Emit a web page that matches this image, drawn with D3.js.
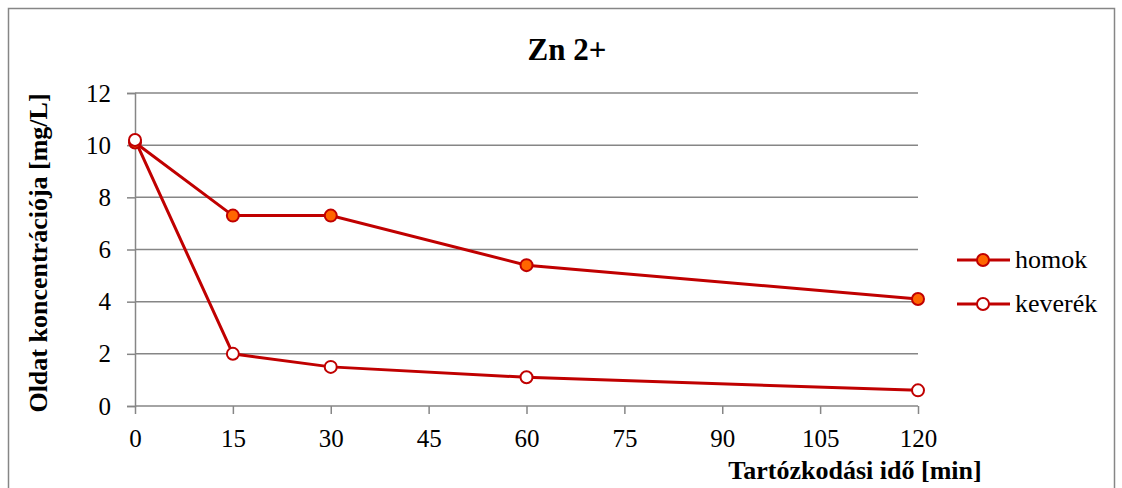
<!DOCTYPE html>
<html>
<head>
<meta charset="utf-8">
<script src="https://cdn.jsdelivr.net/npm/d3@7"></script>
<style>
  body { margin: 0; background: #fff; }
  svg text { font-family: 'Liberation Serif', serif; fill: #000; }
</style>
</head>
<body>
<svg id="chart" width="1122" height="488"></svg>
<script>
const times = [0, 15, 30, 60, 120];
const homok = [10.1, 7.3, 7.3, 5.4, 4.1];
const keverek = [10.2, 2.0, 1.5, 1.1, 0.6];
const xTicks = [0, 15, 30, 45, 60, 75, 90, 105, 120];
const yTicks = [0, 2, 4, 6, 8, 10, 12];

const series = [
    { name: "homok", values: homok, fill: "#FF6600" },
    { name: "keverék", values: keverek, fill: "#FFFFFF" }
];

const svg = d3.select("#chart");
const red = "#C00000";
const gray = "#868686";
const serif = "'Liberation Serif', serif";

// outer frame
svg.append("rect")
    .attr("x", 8.5).attr("y", 8.5)
    .attr("width", 1106).attr("height", 500)
    .attr("fill", "none").attr("stroke", gray).attr("stroke-width", 1.5);

const x = d3.scaleLinear().domain([0, 120]).range([135, 918]);
const y = d3.scaleLinear().domain([0, 12]).range([406, 93]);

// gridlines
svg.append("g")
    .selectAll("line")
    .data(yTicks.filter(d => d > 0))
    .enter()
    .append("line")
    .attr("x1", x(0)).attr("x2", x(120))
    .attr("y1", d => y(d)).attr("y2", d => y(d))
    .attr("stroke", gray).attr("stroke-width", 1.5);

// y axis
const yAxis = svg.append("g")
    .attr("transform", `translate(${x(0)},0)`)
    .call(d3.axisLeft(y).tickValues(yTicks).tickSize(8).tickPadding(16));
// x axis
const xAxis = svg.append("g")
    .attr("transform", `translate(0,${y(0)})`)
    .call(d3.axisBottom(x).tickValues(xTicks).tickSize(8).tickPadding(15));

[yAxis, xAxis].forEach(g => {
    g.attr("font-family", serif).attr("font-size", 25);
    g.select(".domain").attr("stroke", gray).attr("stroke-width", 1.5);
    g.selectAll(".tick line").attr("stroke", gray).attr("stroke-width", 1.5);
    g.selectAll(".tick text").style("font-size", "25px").attr("fill", "#000");
});
xAxis.select(".domain").attr("d", `M${x(0)},0H${x(120)}`);

const line = d3.line()
    .x((d, i) => x(times[i]))
    .y(d => y(d));

series.forEach(s => {
    svg.append("path")
        .datum(s.values)
        .attr("d", line)
        .attr("fill", "none")
        .attr("stroke", red)
        .attr("stroke-width", 3);
});

series.forEach(s => {
    svg.append("g")
        .selectAll("circle")
        .data(s.values)
        .enter()
        .append("circle")
        .attr("cx", (d, i) => x(times[i]))
        .attr("cy", d => y(d))
        .attr("r", 6)
        .attr("fill", s.fill)
        .attr("stroke", red)
        .attr("stroke-width", 2);
});

// title
svg.append("text")
    .attr("x", 567).attr("y", 60)
    .attr("text-anchor", "middle")
    .style("font-size", "31px").style("font-weight", "bold")
    .text("Zn 2+");

// y label
svg.append("text")
    .attr("transform", "translate(47,253) rotate(-90)")
    .attr("text-anchor", "middle")
    .style("font-size", "26px").style("font-weight", "bold")
    .text("Oldat koncentrációja [mg/L]");

// x label
svg.append("text")
    .attr("x", 855).attr("y", 479)
    .attr("text-anchor", "middle")
    .style("font-size", "26px").style("font-weight", "bold")
    .text("Tartózkodási idő [min]");

// legend
const legend = svg.append("g")
    .selectAll("g")
    .data(series)
    .enter()
    .append("g")
    .attr("transform", (d, i) => `translate(957,${260 + i * 44})`);
legend.append("line")
    .attr("x1", 0).attr("x2", 53)
    .attr("stroke", red).attr("stroke-width", 3);
legend.append("circle")
    .attr("cx", 26).attr("r", 6)
    .attr("fill", d => d.fill)
    .attr("stroke", red).attr("stroke-width", 2);
legend.append("text")
    .attr("x", 58).attr("y", 8)
    .style("font-size", "26px")
    .text(d => d.name);
</script>
</body>
</html>
